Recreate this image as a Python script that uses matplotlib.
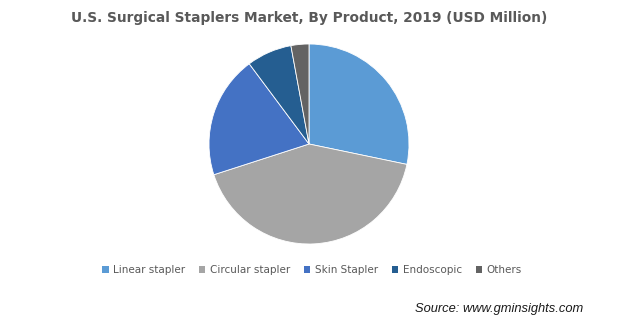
import matplotlib

matplotlib.use("Agg")
import matplotlib.pyplot as plt
from matplotlib.patches import Patch

categories = ["Linear stapler", "Circular stapler", "Skin Stapler", "Endoscopic", "Others"]
shares = [28.3, 41.8, 19.8, 7.3, 2.9]
colors = ["#5B9BD5", "#A5A5A5", "#4472C4", "#255E91", "#636363"]

W, H = 624, 329
fig = plt.figure(figsize=(W / 100, H / 100), dpi=100)
fig.patch.set_facecolor("white")

# pie centre ~ (309,144) px, radius ~100 px
ax = fig.add_axes([209 / W, (H - 244) / H, 200 / W, 200 / H])
ax.pie(shares, colors=colors, startangle=90, counterclock=False, radius=1.0,
       wedgeprops=dict(edgecolor="white", linewidth=0.6))
ax.set_xlim(-1.0, 1.0)
ax.set_ylim(-1.0, 1.0)
ax.set_aspect("equal")
ax.axis("off")

fig.text(309 / W, 1 - 18 / H, "U.S. Surgical Staplers Market, By Product, 2019 (USD Million)",
         ha="center", va="center", fontsize=9.9, fontweight="bold", color="#595959",
         family="DejaVu Sans")

handles = [Patch(facecolor=c, edgecolor="none") for c in colors]
fig.legend(handles, categories, loc="center", bbox_to_anchor=(312 / W, 1 - 270 / H),
           ncol=5, frameon=False, handlelength=0.6, handleheight=0.6,
           handletextpad=0.4, columnspacing=1.38, labelcolor="#595959",
           prop=dict(family="DejaVu Sans", size=7.5))

fig.text(583 / W, 1 - 309 / H, "Source: www.gminsights.com", ha="right", va="center",
         fontsize=9.3, style="italic", color="#1a1a1a", family="Liberation Sans")

fig.savefig("out.png", dpi=100, facecolor="white")
